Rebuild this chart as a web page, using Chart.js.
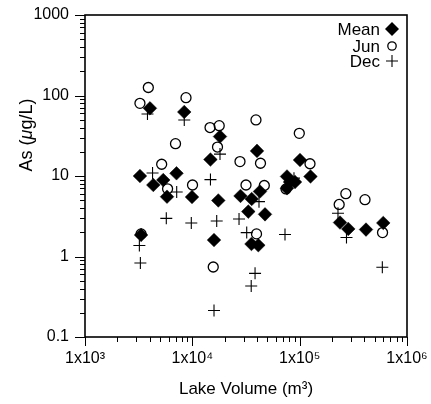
<!DOCTYPE html>
<html>
<head>
<meta charset="utf-8">
<script src="https://cdn.jsdelivr.net/npm/chart.js@4"></script>
<style>
  html, body { margin: 0; padding: 0; background: #fff; }
  #wrap { width: 431px; height: 404px; }
</style>
</head>
<body>
<div id="wrap"><canvas id="asChart" width="431" height="404"></canvas></div>
<script>
// Lake volume (m3) and arsenic (ug/L)
const meanVolume = [4030, 8410, 3250, 4330, 5360, 7120, 5810, 9930, 3330, 18100, 14750, 17460, 15920, 40040, 28100, 33230, 35740, 42660, 47560, 35560, 41180, 76200, 81300, 76200, 90500, 100700, 126200, 237600, 283700, 415000, 601000];
const meanAs = [69.3, 62.4, 10.0, 7.73, 8.91, 10.8, 5.53, 5.48, 1.85, 30.9, 16.0, 4.97, 1.60, 20.5, 5.65, 3.61, 5.18, 6.41, 3.34, 1.43, 1.38, 9.87, 8.42, 7.03, 8.42, 15.8, 9.87, 2.64, 2.20, 2.16, 2.61];

const junVolume = [3890, 3250, 8730, 6970, 5180, 5880, 10040, 3330, 14620, 17800, 17160, 27800, 39160, 43150, 31620, 46830, 39630, 15660, 99200, 124800, 74600, 269300, 233400, 406000, 591700];
const junAs = [125.7, 80, 94, 25.2, 14.0, 6.93, 7.73, 1.91, 40, 42.2, 22.9, 15.1, 49.7, 14.4, 7.73, 7.62, 1.91, 0.741, 33.9, 14.2, 6.9, 6.03, 4.43, 5.08, 1.98];

const decVolume = [3820, 8410, 4260, 7150, 5720, 9780, 3210, 3280, 18100, 14750, 16870, 15920, 27230, 32110, 38400, 35360, 41790, 73000, 88500, 227500, 273000, 589000];
const decAs = [58.9, 49.7, 10.9, 6.33, 2.98, 2.61, 1.37, 0.83, 18.7, 9.02, 2.76, 0.213, 2.92, 1.98, 0.618, 0.430, 4.80, 1.88, 9.4, 3.44, 1.72, 0.734];

const xTicks = [1e3, 1e4, 1e5, 1e6];
const xTickLabels = ['1x10\u00b3', '1x10\u2074', '1x10\u2075', '1x10\u2076'];
const yTicks = [0.1, 1, 10, 100, 1000];
const yTickLabels = ['0.1', '1', '10', '100', '1000'];
const legendLabels = ['Mean', 'Jun', 'Dec'];

const FONT = "'Liberation Sans', Arial, Helvetica, sans-serif";

function toPoints(xs, ys) {
    return xs.map((x, i) => ({ x: x, y: ys[i] }));
}

// labels may hang over the plot box, don't let them shrink it
function noLabelPadding(s) {
    s.paddingTop = 0;
    s.paddingBottom = 0;
    s.paddingLeft = 0;
    s.paddingRight = 0;
}

// frame, minor/major tick marks, y title and the legend
const decorations = {
    id: 'decorations',
    afterDraw(chart) {
        const ctx = chart.ctx;
        const a = chart.chartArea;
        const xs = chart.scales.x;
        const ys = chart.scales.y;
        ctx.save();
        ctx.strokeStyle = '#000';

        // tick marks (outward)
        ctx.lineWidth = 1;
        ctx.beginPath();
        for (let e = 3; e <= 6; e++) {
            for (let m = 1; m <= 9; m++) {
                const v = m * Math.pow(10, e);
                if (v > 1e6) break;
                const px = Math.round(xs.getPixelForValue(v)) + 0.5;
                const len = m === 1 ? 9 : 5;
                ctx.moveTo(px, a.bottom);
                ctx.lineTo(px, a.bottom + len);
            }
        }
        for (let e = -1; e <= 3; e++) {
            for (let m = 1; m <= 9; m++) {
                const v = m * Math.pow(10, e);
                if (v > 1000) break;
                const py = Math.round(ys.getPixelForValue(v)) + 0.5;
                const len = m === 1 ? 10 : 5;
                ctx.moveTo(a.left, py);
                ctx.lineTo(a.left - len, py);
            }
        }
        ctx.stroke();

        // box
        ctx.lineWidth = 1.6;
        ctx.strokeRect(a.left, a.top, a.right - a.left, a.bottom - a.top);

        // y axis title with italic mu
        ctx.translate(27, 135);
        ctx.rotate(-Math.PI / 2);
        ctx.fillStyle = '#000';
        ctx.textBaseline = 'middle';
        const parts = [['As (', 'normal'], ['\u03bc', 'italic'], ['g/L)', 'normal']];
        let total = 0;
        parts.forEach(p => {
            ctx.font = p[1] + ' 18px ' + FONT;
            total += ctx.measureText(p[0]).width;
        });
        let cx = -total / 2;
        parts.forEach(p => {
            ctx.font = p[1] + ' 18px ' + FONT;
            ctx.fillText(p[0], cx, 0);
            cx += ctx.measureText(p[0]).width;
        });
        ctx.setTransform(1, 0, 0, 1, 0, 0);

        // legend, text right-aligned with symbol on the right
        const rows = [29, 46, 61];
        const symX = 392;
        ctx.font = '17px ' + FONT;
        ctx.textAlign = 'right';
        ctx.textBaseline = 'middle';
        legendLabels.forEach((lab, i) => {
            ctx.fillText(lab, 380, rows[i] + 1);
        });
        // diamond
        ctx.beginPath();
        ctx.moveTo(symX, rows[0] - 7);
        ctx.lineTo(symX + 7, rows[0]);
        ctx.lineTo(symX, rows[0] + 7);
        ctx.lineTo(symX - 7, rows[0]);
        ctx.closePath();
        ctx.fill();
        // circle
        ctx.lineWidth = 1.3;
        ctx.beginPath();
        ctx.arc(symX, rows[1], 4.2, 0, Math.PI * 2);
        ctx.stroke();
        // plus
        ctx.lineWidth = 1.1;
        ctx.beginPath();
        ctx.moveTo(symX - 6, rows[2]);
        ctx.lineTo(symX + 6, rows[2]);
        ctx.moveTo(symX, rows[2] - 6);
        ctx.lineTo(symX, rows[2] + 6);
        ctx.stroke();

        ctx.restore();
    }
};

const ctx = document.getElementById('asChart').getContext('2d');
const asChart = new Chart(ctx, {
    type: 'scatter',
    data: {
        datasets: [
            {
                label: 'Mean',
                data: toPoints(meanVolume, meanAs),
                pointStyle: 'rectRot',
                pointRadius: 6.8,
                backgroundColor: '#000',
                borderColor: '#000',
                borderWidth: 0.5
            },
            {
                label: 'Jun',
                data: toPoints(junVolume, junAs),
                pointStyle: 'circle',
                pointRadius: 5,
                backgroundColor: 'rgba(0,0,0,0)',
                borderColor: '#000',
                borderWidth: 1.3
            },
            {
                label: 'Dec',
                data: toPoints(decVolume, decAs),
                pointStyle: 'cross',
                pointRadius: 6,
                borderColor: '#000',
                borderWidth: 1.1
            }
        ]
    },
    options: {
        responsive: false,
        animation: false,
        events: [],
        layout: { padding: { top: 15, right: 24, bottom: 0, left: 0 } },
        plugins: {
            legend: { display: false },
            tooltip: { enabled: false }
        },
        scales: {
            x: {
                type: 'logarithmic',
                min: 1e3,
                max: 1e6,
                grid: { display: false, drawTicks: false },
                border: { display: false },
                afterBuildTicks: s => { s.ticks = xTicks.map(v => ({ value: v })); },
                afterFit: s => { s.height = 67; noLabelPadding(s); },
                ticks: {
                    color: '#000',
                    font: { family: FONT, size: 16 },
                    padding: 12,
                    maxRotation: 0,
                    autoSkip: false,
                    callback: v => xTickLabels[xTicks.indexOf(v)]
                },
                title: {
                    display: true,
                    text: 'Lake Volume (m\u00b3)',
                    color: '#000',
                    font: { family: FONT, size: 17 },
                    padding: { top: 0, bottom: 4 }
                }
            },
            y: {
                type: 'logarithmic',
                min: 0.1,
                max: 1000,
                grid: { display: false, drawTicks: false },
                border: { display: false },
                afterBuildTicks: s => { s.ticks = yTicks.map(v => ({ value: v })); },
                afterFit: s => { s.width = 85; noLabelPadding(s); },
                ticks: {
                    color: '#000',
                    font: { family: FONT, size: 16 },
                    padding: 16,
                    autoSkip: false,
                    callback: v => yTickLabels[yTicks.indexOf(v)]
                }
            }
        }
    },
    plugins: [decorations]
});
</script>
</body>
</html>
